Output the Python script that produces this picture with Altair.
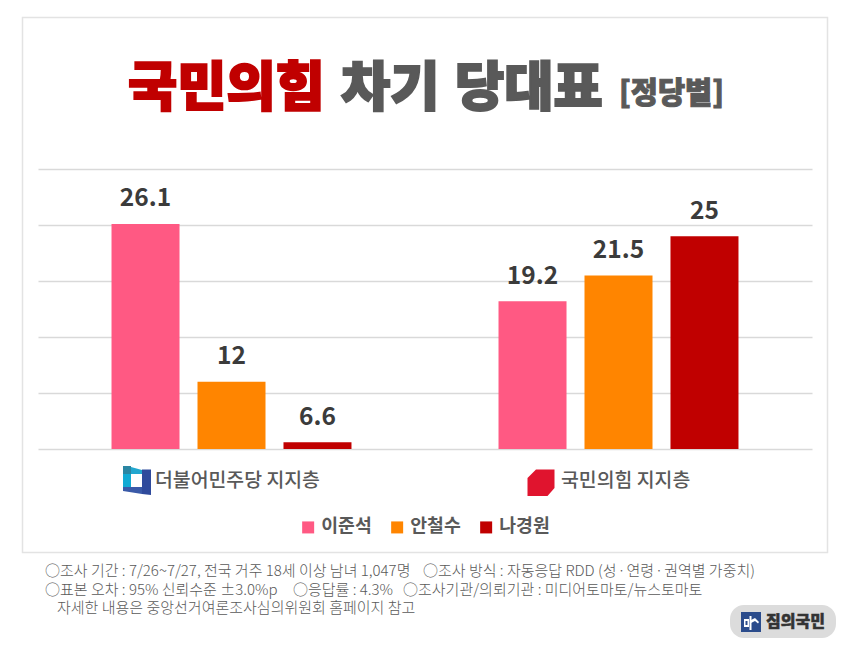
import altair as alt

groups = ["더불어민주당 지지층", "국민의힘 지지층"]
candidates = ["이준석", "안철수", "나경원"]
colors = ["#ff5983", "#ff8500", "#c00000"]
group_values = {
    "더불어민주당 지지층": [26.1, 12, 6.6],
    "국민의힘 지지층": [19.2, 21.5, 25],
}
value_labels = {26.1: "26.1", 12: "12", 6.6: "6.6", 19.2: "19.2", 21.5: "21.5", 25: "25"}

rows = []
for g in groups:
    for c, v in zip(candidates, group_values[g]):
        rows.append({"group": g, "candidate": c, "value": v, "base": 6, "label": value_labels[v]})

OX, OY = 38, 169   # plot origin in page pixels
W, H = 774, 280
KR = "Noto Sans CJK KR"
x_enc = alt.X("group:N", sort=groups, axis=None, scale=alt.Scale(paddingInner=0, paddingOuter=0), title=None)
off_enc = alt.XOffset("candidate:N", sort=candidates, scale=alt.Scale(paddingInner=0.209, paddingOuter=0.855))
y_scale = alt.Scale(domain=[6, 31], nice=False, zero=False)

one = alt.Data(values=[{"k": 1}])


def txt(s, x, y, size, color, weight=400, align="left", thick=0):
    kw = {"stroke": color, "strokeWidth": thick} if thick else {}
    return alt.Chart(one).mark_text(text=s, font=KR, fontSize=size, color=color, fontWeight=weight,
                                    align=align, baseline="middle", **kw).encode(
        x=alt.value(x - OX), y=alt.value(y - OY))


def box(x0, y0, x1, y1, **kw):
    return alt.Chart(one).mark_rect(**kw).encode(
        x=alt.value(x0 - OX), x2=alt.value(x1 - OX), y=alt.value(y0 - OY), y2=alt.value(y1 - OY))


def poly(points, color, **kw):
    xs = [p[0] for p in points]
    ys = [p[1] for p in points]
    cx, cy = (min(xs) + max(xs)) / 2, (min(ys) + max(ys)) / 2
    r = max(max(xs) - min(xs), max(ys) - min(ys)) / 2
    path = "M" + " L".join(f"{(px - cx) / r:.3f},{(py - cy) / r:.3f}" for px, py in points) + " Z"
    return alt.Chart(one).mark_point(shape=path, filled=True, size=(2 * r) ** 2, color=color, opacity=1, **kw).encode(
        x=alt.value(cx - OX), y=alt.value(cy - OY))


frame = box(22.5, 17.5, 827.5, 552.5, fill="transparent", stroke="#e3e3e3", strokeWidth=1.5)

grid = alt.Chart(alt.Data(values=rows)).mark_bar(opacity=0).encode(
    y=alt.Y("value:Q", scale=y_scale, title=None,
            axis=alt.Axis(values=[6, 11, 16, 21, 26, 31], labels=False, ticks=False, domain=False,
                          grid=True, gridColor="#d9d9d9", gridWidth=1.5)))

bars = alt.Chart(alt.Data(values=rows)).mark_bar(width=68).encode(
    x=x_enc, xOffset=off_enc,
    y=alt.Y("value:Q", scale=y_scale, title=None),
    y2="base:Q",
    color=alt.Color("candidate:N", sort=candidates, title=None,
                    scale=alt.Scale(domain=candidates, range=colors),
                    legend=alt.Legend(orient="none", legendX=303 - OX - 4, legendY=518 - OY, direction="horizontal",
                                      symbolType="square", symbolSize=144, symbolStrokeWidth=0,
                                      labelFont=KR, labelFontSize=18.3, labelFontWeight=700,
                                      labelColor="#595959", columnPadding=16, labelOffset=4,
                                      padding=0)),
)

labels = alt.Chart(alt.Data(values=rows)).mark_text(font=KR, fontSize=24.5, fontWeight=700, color="#3b3b3b",
                                                     baseline="middle", dy=-24.5).encode(
    x=x_enc, xOffset=off_enc, y=alt.Y("value:Q", scale=y_scale, title=None), text="label:N")

flag = [
    poly([(123, 466), (131, 466), (131, 474), (123, 474)], "#2a86a3"),
    poly([(131, 467), (142, 470), (142, 474), (131, 474)], "#22a7cf"),
    poly([(123, 474), (131, 474), (131, 487), (123, 487)], "#11aad4"),
    poly([(123, 487), (142, 487), (142, 494), (123, 491)], "#3a5aa8"),
    poly([(142, 469.5), (151, 469.5), (151, 495), (142, 494)], "#2f4a9c"),
]
red_logo = poly([(536, 469.5), (554.5, 469.5), (554.5, 488), (547.5, 496), (527.5, 496), (527.5, 478)], "#e0142e")

badge_glyph = [
    poly([(744, 619), (749, 619), (749, 627), (744, 627)], "white"),
    poly([(749.5, 616), (751.5, 616), (751.5, 630), (749.5, 630)], "white"),
    poly([(751, 620), (755, 618), (759, 622), (758, 623.5), (755, 621), (751, 623)], "white"),
    poly([(745.5, 621), (747.5, 621), (747.5, 625), (745.5, 625)], "#2b4c8c"),
]

layers = [frame, grid, bars, labels,
          txt("국민의힘", 128, 90, 53.5, "#c00000", 900, thick=2),
          txt("차기", 341, 90, 53.5, "#595959", 900, thick=2),
          txt("당대표", 455, 90, 53.5, "#595959", 900, thick=2),
          txt("[정당별]", 619, 93.5, 29.5, "#595959", 900, thick=1),
          *flag, red_logo,
          txt(groups[0], 155, 481, 19.4, "#595959", 500),
          txt(groups[1], 561, 481, 19.4, "#595959", 500),
          txt("○조사 기간 : 7/26~7/27, 전국 거주 18세 이상 남녀 1,047명", 45, 571, 15, "#595959", 300),
          txt("○조사 방식 : 자동응답 RDD (성\u200a·\u200a연령\u200a·\u200a권역별 가중치)", 423, 571, 15, "#595959", 300),
          txt("○표본 오차 : 95% 신뢰수준 ±3.0%p", 45, 590, 15, "#595959", 300),
          txt("○응답률 : 4.3%", 293, 590, 15, "#595959", 300),
          txt("○조사기관/의뢰기관 : 미디어토마토/뉴스토마토", 403, 590, 15, "#595959", 300),
          txt("자세한 내용은 중앙선거여론조사심의위원회 홈페이지 참고", 57, 608, 15, "#595959", 300),
          box(730, 605, 836, 638, fill="#dcdcdc", cornerRadius=14),
          box(741, 612, 761, 632, fill="#2b4c8c"),
          *badge_glyph,
          txt("짐의국민", 766, 622, 16, "#333333", 900, thick=0.5),
          ]
chart = alt.layer(*layers).resolve_scale(x="independent").properties(
    width=W, height=H, background="white",
    padding={"left": OX - 8, "top": OY - 8, "right": 850 - 16 - (OX - 8) - W, "bottom": 637 - (OY - 8) - H},
    autosize=alt.AutoSizeParams(type="none"),
).configure_view(stroke=None)

chart.save("out.html", embed_options={"renderer": "svg", "actions": False})
